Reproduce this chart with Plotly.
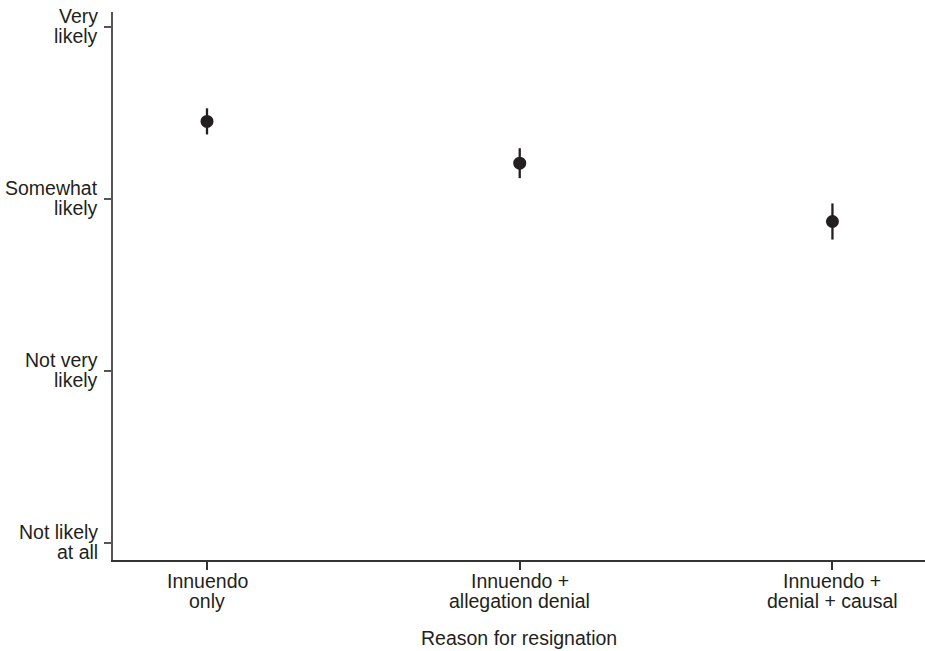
import plotly.graph_objects as go

categories = ["Innuendo\nonly", "Innuendo +\nallegation denial", "Innuendo +\ndenial + causal"]
means = [3.451, 3.208, 2.869]
errors = [0.076, 0.087, 0.105]
y_tickvals = [1, 2, 3, 4]
y_ticklabels = ["Not likely\nat all", "Not very\nlikely", "Somewhat\nlikely", "Very\nlikely"]
x_title = "Reason for resignation"

text_color = "#231f20"
font = dict(family="Liberation Sans, Arial, sans-serif", size=19.5, color=text_color)

fig = go.Figure()
fig.add_trace(go.Scatter(
    x=list(range(len(categories))),
    y=means,
    mode="markers",
    marker=dict(size=13, color=text_color),
    error_y=dict(type="data", array=errors, visible=True, thickness=2.3, width=0, color=text_color),
    showlegend=False,
))

annotations = []
# y tick labels (tight line spacing as in reference)
for val, lab in zip(y_tickvals, y_ticklabels):
    lines = lab.split("\n")
    for i, line in enumerate(lines):
        annotations.append(dict(
            text=line, xref="paper", x=0, xanchor="right", xshift=-13,
            yref="y", y=val, yanchor="middle", yshift=11 - 20 * i,
            showarrow=False, font=font, align="right",
        ))
# x tick labels
for xi, lab in enumerate(categories):
    lines = lab.split("\n")
    for i, line in enumerate(lines):
        annotations.append(dict(
            text=line, xref="x", x=xi, xanchor="center",
            yref="paper", y=0, yanchor="middle", yshift=-21 - 20 * i,
            showarrow=False, font=font,
        ))
# x axis title
annotations.append(dict(
    text=x_title, xref="paper", x=0.5, xanchor="center",
    yref="paper", y=0, yanchor="middle", yshift=-78,
    showarrow=False, font=font,
))

fig.update_layout(
    width=925, height=651,
    margin=dict(l=113, r=0, t=12, b=91),
    paper_bgcolor="white", plot_bgcolor="white",
    font=font,
    annotations=annotations,
)
fig.update_xaxes(
    range=[-0.3006, 2.296],
    tickvals=list(range(len(categories))),
    showticklabels=False,
    showgrid=False, zeroline=False,
    showline=True, linecolor="#333333", linewidth=1.5,
    ticks="outside", ticklen=8, tickwidth=1.5, tickcolor="#333333",
)
fig.update_yaxes(
    range=[0.901, 4.087],
    tickvals=y_tickvals,
    showticklabels=False,
    showgrid=False, zeroline=False,
    showline=True, linecolor="#555555", linewidth=1.5,
    ticks="outside", ticklen=7, tickwidth=1.5, tickcolor="#555555",
)

fig.write_html("out.html", config={"displayModeBar": False},
               post_script="document.body.style.margin='0px';")
